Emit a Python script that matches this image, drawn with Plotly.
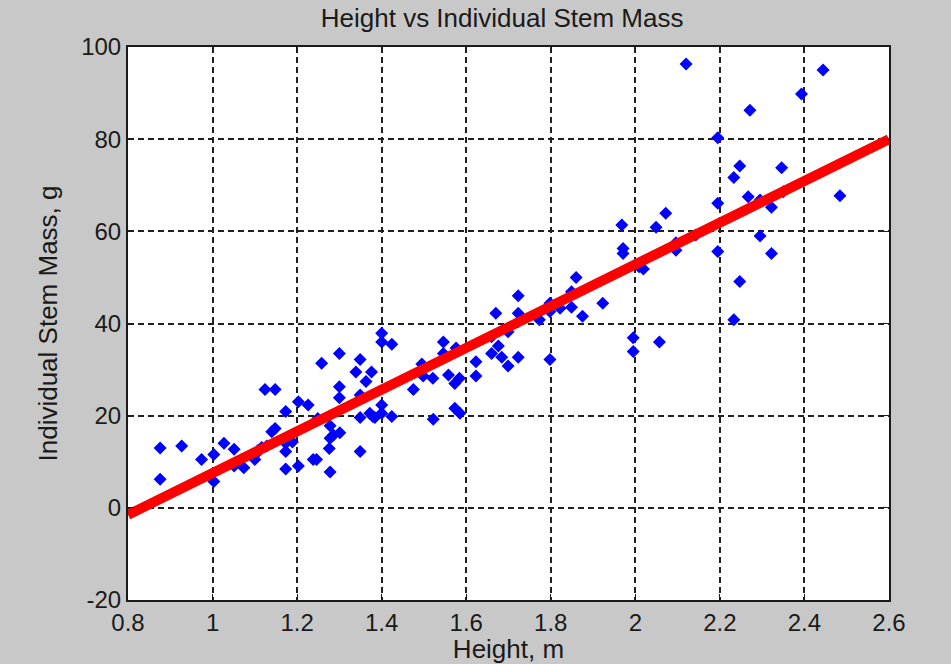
import plotly.graph_objects as go

# Measured stems: height (m) and individual stem mass (g)
height_m = [
    0.876, 0.876, 0.927, 0.974, 1.003, 1.003, 1.027, 1.051, 1.051, 1.074,
    1.100, 1.104, 1.108, 1.116, 1.128, 1.124, 1.148, 1.140, 1.148, 1.173,
    1.173, 1.173, 1.173, 1.189, 1.203, 1.203, 1.226, 1.238, 1.246, 1.249,
    1.278, 1.258, 1.300, 1.300, 1.300, 1.278, 1.286, 1.278, 1.276, 1.301,
    1.349, 1.349, 1.339, 1.363, 1.376, 1.349, 1.349, 1.372, 1.379, 1.384,
    1.400, 1.400, 1.400, 1.400, 1.424, 1.424, 1.475, 1.498, 1.495, 1.521,
    1.522, 1.546, 1.546, 1.558, 1.576, 1.573, 1.584, 1.573, 1.585, 1.623,
    1.623, 1.670, 1.660, 1.676, 1.660, 1.684, 1.699, 1.699, 1.723, 1.723,
    1.723, 1.723, 1.773, 1.798, 1.798, 1.798, 1.822, 1.849, 1.849, 1.860,
    1.875, 1.923, 1.995, 1.995, 2.057, 2.009, 2.019, 1.971, 1.971, 1.968,
    2.049, 2.072, 2.096, 2.096, 2.143, 2.195, 2.195, 2.247, 2.233, 2.233,
    2.267, 2.295, 2.295, 2.322, 2.350, 2.484, 2.322, 2.120, 2.444, 2.393,
    2.271, 2.195, 2.247, 2.346,
]
stem_mass_g = [
    13.0, 6.2, 13.4, 10.5, 11.6, 5.7, 14.0, 12.7, 9.1, 8.7,
    10.5, 11.8, 12.5, 13.1, 13.4, 25.7, 25.7, 16.5, 17.2, 20.9,
    14.0, 12.2, 8.4, 14.3, 23.0, 9.1, 22.3, 10.5, 10.5, 19.4,
    7.8, 31.4, 33.5, 26.3, 23.9, 17.8, 15.8, 15.1, 12.9, 16.3,
    12.2, 32.2, 29.5, 27.4, 29.5, 24.5, 19.6, 20.5, 19.8, 19.6,
    22.3, 20.5, 37.9, 36.0, 35.5, 19.8, 25.7, 28.6, 31.2, 28.1,
    19.2, 36.0, 33.5, 28.8, 34.7, 27.0, 28.1, 21.6, 20.5, 31.7,
    28.6, 42.2, 37.1, 35.1, 33.5, 32.7, 30.8, 38.2, 46.0, 42.2,
    40.4, 32.7, 40.8, 44.4, 42.6, 32.2, 43.3, 46.9, 43.5, 50.0,
    41.6, 44.4, 36.9, 33.9, 36.0, 52.3, 51.8, 56.3, 55.2, 61.4,
    60.9, 63.9, 57.5, 55.9, 59.2, 66.1, 55.6, 49.1, 40.8, 71.7,
    67.5, 66.8, 59.0, 65.2, 68.6, 67.7, 55.2, 96.3, 95.0, 89.8,
    86.3, 80.3, 74.2, 73.8,
]

# Least-squares fit line, end points over the plotted height range
fit_height_m = [0.8, 2.6]
fit_mass_g = [-1.5, 80.0]

x_ticks = [0.8, 1.0, 1.2, 1.4, 1.6, 1.8, 2.0, 2.2, 2.4, 2.6]
x_tick_text = ["0.8", "1", "1.2", "1.4", "1.6", "1.8", "2", "2.2", "2.4", "2.6"]
y_ticks = [-20, 0, 20, 40, 60, 80, 100]
y_tick_text = ["-20", "0", "20", "40", "60", "80", "100"]

FONT = "Liberation Sans, Arial, sans-serif"
INK = "#1a1a1a"

fig = go.Figure()
fig.add_trace(go.Scatter(
    x=height_m, y=stem_mass_g, mode="markers",
    marker=dict(symbol="diamond", size=10, color="#0000ff",
                line=dict(width=0)),
    showlegend=False, cliponaxis=False,
))
fig.add_trace(go.Scatter(
    x=fit_height_m, y=fit_mass_g, mode="lines",
    line=dict(color="#ff0000", width=10),
    showlegend=False,
))

axis_common = dict(
    automargin=False,
    showline=True, linecolor=INK, linewidth=2, mirror="ticks",
    ticks="inside", ticklen=6, tickwidth=1, tickcolor=INK,
    showgrid=True, gridcolor="#1f1f1f", gridwidth=1.5, griddash="6px,4px",
    zeroline=False,
    tickfont=dict(family=FONT, size=24, color=INK),
)

fig.update_layout(
    width=951, height=664,
    margin=dict(l=128, r=62, t=47, b=64),
    paper_bgcolor="#c8c8c8", plot_bgcolor="#ffffff",
    title=dict(text="Height vs Individual Stem Mass",
               font=dict(family=FONT, size=26, color=INK),
               x=0.528, xanchor="center", y=0.973, yanchor="middle"),
    xaxis=dict(range=[0.8, 2.6], tickvals=x_ticks, ticktext=x_tick_text,
               title=dict(text="Height, m", standoff=14,
                          font=dict(family=FONT, size=26, color=INK)),
               **axis_common),
    yaxis=dict(range=[-20, 100], tickvals=y_ticks, ticktext=y_tick_text,
               title=dict(text="Individual Stem Mass, g", standoff=16,
                          font=dict(family=FONT, size=26, color=INK)),
               **axis_common),
)

fig.write_html("out.html")
